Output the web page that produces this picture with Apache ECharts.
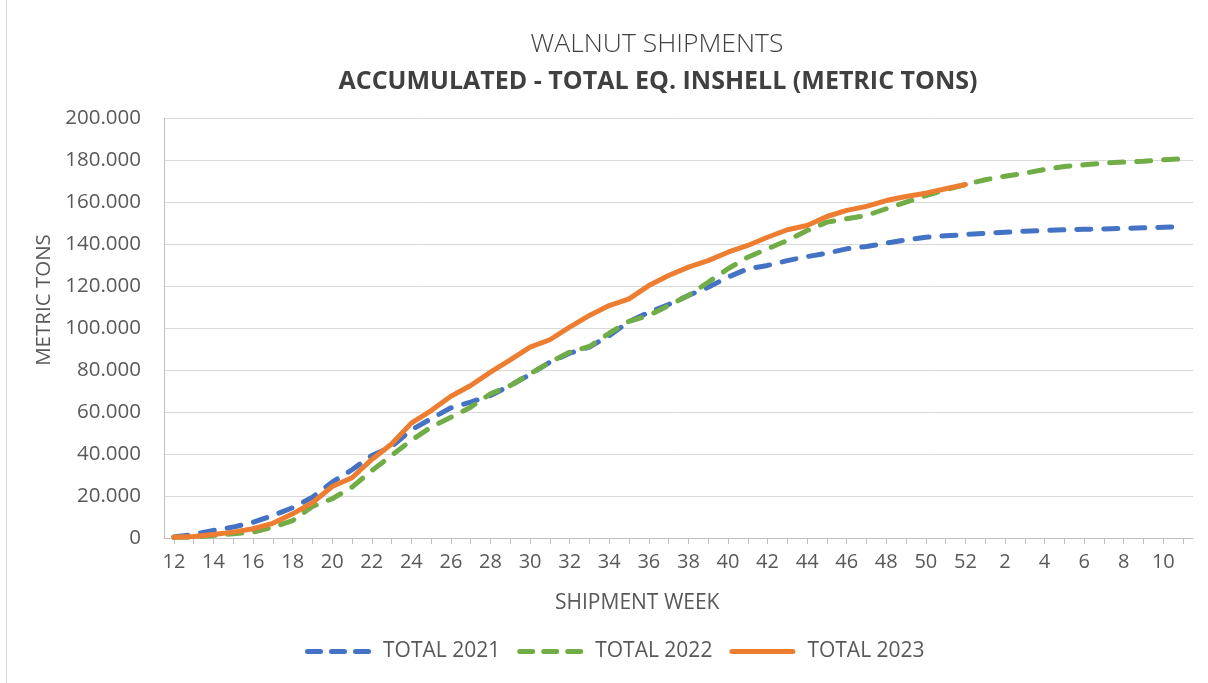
<!DOCTYPE html>
<html>
<head>
<meta charset="utf-8">
<script src="https://cdn.jsdelivr.net/npm/echarts@6/dist/echarts.min.js"></script>
<style>
html,body{margin:0;padding:0;background:#fff;}
#chart{width:1208px;height:683px;}
</style>
</head>
<body>
<div id="chart"></div>
<script>
const weeks = [12,13,14,15,16,17,18,19,20,21,22,23,24,25,26,27,28,29,30,31,32,33,34,35,36,37,38,39,40,41,42,43,44,45,46,47,48,49,50,51,52,1,2,3,4,5,6,7,8,9,10,11];
const total2021 = [500,1700,3600,5200,7500,10700,14400,19400,26600,32500,39300,43500,51500,56800,62000,64700,67900,72600,77900,83700,88000,90900,96400,103000,107500,111200,115500,119400,124200,128200,129800,132100,134000,135600,137700,138800,140400,142000,143200,143900,144500,145100,145600,146100,146400,146800,147000,147200,147400,147700,148000,148300];
const total2022 = [300,400,1200,2000,2800,5100,8300,15000,18700,24200,32100,39300,46500,52800,57500,62300,68700,72600,78200,83700,88500,91200,97500,103200,106000,110700,115500,121800,128200,133700,137700,141700,146400,150400,152000,153600,156800,159900,163100,165800,168300,170600,172300,173700,175500,176900,177700,178500,179000,179400,180100,180600];
const total2023 = [300,700,1700,2800,4400,7000,11500,16800,24500,28700,37400,44800,54700,60700,67500,72600,79000,84800,90900,94400,100400,106000,110700,113900,120200,125000,129000,132100,136100,139300,143200,146800,148800,153100,156000,157900,160700,162600,164200,166300,168300];
const seriesNames = ['TOTAL 2021','TOTAL 2022','TOTAL 2023'];
const titleText = 'WALNUT SHIPMENTS';
const subtitleText = 'ACCUMULATED - TOTAL EQ. INSHELL (METRIC TONS)';
const xName = 'SHIPMENT WEEK';
const yName = 'METRIC TONS';

const FONT = '"Open Sans", "DejaVu Sans", sans-serif';
const TXT = '#595959';
const chart = echarts.init(document.getElementById('chart'));
function fmt(v){ return v === 0 ? '0' : (v/1000) + '.000'; }
const dashed = (color) => ({color: color, width: 5, type: [14, 13], cap: 'round', join: 'round'});
const dashIcon = 'path://M2.5,0h13a2.5,2.5 0 0 1 0,5h-13a2.5,2.5 0 0 1 0,-5z M26.5,0h13a2.5,2.5 0 0 1 0,5h-13a2.5,2.5 0 0 1 0,-5z M50.5,0h13a2.5,2.5 0 0 1 0,5h-13a2.5,2.5 0 0 1 0,-5z';
const solidIcon = 'path://M2.5,0h61a2.5,2.5 0 0 1 0,5h-61a2.5,2.5 0 0 1 0,-5z';
chart.setOption({
  animation: false,
  backgroundColor: '#ffffff',
  textStyle: {fontFamily: FONT},
  title: [
    {text: titleText, left: 652, top: 26, textAlign: 'center',
     textStyle: {fontFamily: FONT, fontSize: 26.5, fontWeight: 300, color: '#404040'}},
    {text: subtitleText, left: 653, top: 64, textAlign: 'center',
     textStyle: {fontFamily: FONT, fontSize: 25, fontWeight: 'bold', color: '#404040'}}
  ],
  legend: {
    data: [
      {name: seriesNames[0], icon: dashIcon},
      {name: seriesNames[1], icon: dashIcon},
      {name: seriesNames[2], icon: solidIcon}
    ],
    left: 300, top: 636,
    itemWidth: 66, itemHeight: 5, itemGap: 17,
    textStyle: {fontFamily: FONT, fontSize: 21, color: TXT, padding: [0,0,0,7]}
  },
  grid: {left: 164, right: 15, top: 118, bottom: 145, containLabel: false},
  xAxis: {
    type: 'category',
    data: weeks,
    boundaryGap: true,
    axisLine: {lineStyle: {color: '#bfbfbf', width: 1}},
    axisTick: {show: true, interval: 0, alignWithLabel: true, length: 6, lineStyle: {color: '#bfbfbf'}},
    axisLabel: {interval: 1, fontFamily: FONT, fontSize: 20, color: TXT, margin: 14},
    splitLine: {show: false}
  },
  yAxis: {
    type: 'value',
    min: 0, max: 200000, interval: 20000,
    axisLine: {show: true, lineStyle: {color: '#bfbfbf'}},
    axisTick: {show: false},
    axisLabel: {formatter: fmt, fontFamily: FONT, fontSize: 20.5, color: TXT, margin: 23},
    splitLine: {lineStyle: {color: '#d9d9d9', width: 1}}
  },
  graphic: [
    {type: 'text', left: 555, top: 593, style: {text: xName, font: '21px "Open Sans", sans-serif', fill: TXT}},
    {type: 'text', x: 34, y: 300, rotation: Math.PI/2, style: {text: yName, font: '20.5px "Open Sans", sans-serif', fill: TXT, align: 'center', verticalAlign: 'top'}},
    {type: 'line', shape: {x1: 6.5, y1: 0, x2: 6.5, y2: 683}, style: {stroke: '#d9d9d9', lineWidth: 1}}
  ],
  series: [
    {name: seriesNames[0], type: 'line', data: total2021, showSymbol: false, symbol: 'none', lineStyle: dashed('#4472C4'), itemStyle: {color: '#4472C4'}, z: 2},
    {name: seriesNames[1], type: 'line', data: total2022, showSymbol: false, symbol: 'none', lineStyle: dashed('#70AD47'), itemStyle: {color: '#70AD47'}, z: 3},
    {name: seriesNames[2], type: 'line', data: total2023, showSymbol: false, symbol: 'none', lineStyle: {color: '#ED7D31', width: 5, cap: 'round', join: 'round'}, itemStyle: {color: '#ED7D31'}, z: 4}
  ]
});
</script>
</body>
</html>
